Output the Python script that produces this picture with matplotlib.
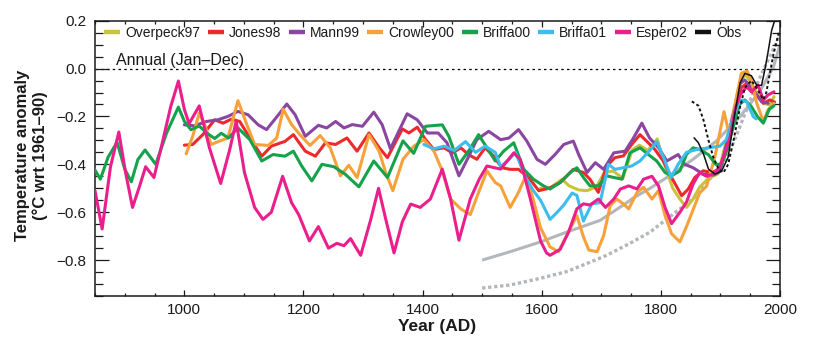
import matplotlib
matplotlib.use("Agg")
import matplotlib.pyplot as plt
from matplotlib.lines import Line2D
from matplotlib.ticker import MultipleLocator, FuncFormatter

plt.rcParams['font.family'] = ['Liberation Sans', 'DejaVu Sans']

# ---------------- data ----------------
overpeck_years = [1598, 1614, 1634, 1646, 1662, 1676, 1692, 1705, 1720, 1736, 1752, 1764, 1778, 1794,
                  1806, 1820, 1832, 1843, 1854, 1865, 1880, 1896, 1916, 1930, 1941, 1952, 1961, 1972,
                  1983, 1990]
overpeck_vals = [-0.50, -0.50, -0.462, -0.49, -0.507, -0.51, -0.494, -0.434, -0.428, -0.458, -0.34, -0.32,
                 -0.342, -0.294, -0.40, -0.50, -0.545, -0.58, -0.545, -0.496, -0.458, -0.44, -0.241, -0.09,
                 -0.021, -0.062, -0.103, -0.145, -0.152, -0.117]

jones_years = [1000, 1014, 1031, 1051, 1065, 1079, 1093, 1110, 1130, 1146, 1169, 1183, 1203, 1220, 1237,
               1254, 1273, 1290, 1310, 1327, 1341, 1366, 1377, 1391, 1405, 1419, 1436, 1450, 1464, 1477,
               1491, 1505, 1519, 1533, 1547, 1561, 1578, 1595, 1612, 1631, 1653, 1670, 1681, 1695, 1709,
               1723, 1737, 1751, 1765, 1776, 1790, 1804, 1818, 1835, 1846, 1857, 1871, 1885, 1899, 1912,
               1925, 1935, 1945, 1955, 1963, 1972, 1983, 1991]
jones_vals = [-0.32, -0.317, -0.276, -0.214, -0.228, -0.211, -0.221, -0.29, -0.366, -0.324, -0.304, -0.276,
              -0.345, -0.366, -0.31, -0.317, -0.29, -0.345, -0.269, -0.33, -0.372, -0.252, -0.269, -0.245,
              -0.297, -0.338, -0.331, -0.352, -0.331, -0.359, -0.379, -0.331, -0.365, -0.414, -0.421,
              -0.421, -0.455, -0.51, -0.50, -0.476, -0.421, -0.434, -0.462, -0.517, -0.407, -0.372,
              -0.365, -0.317, -0.276, -0.303, -0.338, -0.386, -0.455, -0.531, -0.503, -0.455, -0.427,
              -0.434, -0.421, -0.33, -0.18, -0.08, -0.06, -0.10, -0.117, -0.145, -0.131, -0.14]

mann_years = [1000, 1017, 1037, 1056, 1073, 1090, 1107, 1124, 1138, 1158, 1172, 1186, 1203, 1225, 1239,
              1254, 1268, 1282, 1299, 1318, 1332, 1346, 1360, 1374, 1391, 1408, 1426, 1441, 1461, 1475,
              1491, 1511, 1531, 1545, 1561, 1575, 1592, 1606, 1622, 1637, 1653, 1662, 1676, 1690, 1704,
              1721, 1740, 1754, 1768, 1781, 1796, 1810, 1829, 1840, 1854, 1871, 1888, 1899, 1916, 1933,
              1941, 1955, 1969, 1980]
mann_vals = [-0.235, -0.239, -0.221, -0.214, -0.20, -0.179, -0.193, -0.235, -0.255, -0.193, -0.148, -0.193,
             -0.283, -0.237, -0.248, -0.221, -0.248, -0.234, -0.241, -0.182, -0.234, -0.335, -0.262,
             -0.189, -0.214, -0.269, -0.269, -0.31, -0.448, -0.379, -0.297, -0.262, -0.297, -0.29,
             -0.255, -0.303, -0.379, -0.40, -0.36, -0.317, -0.303, -0.359, -0.434, -0.393, -0.421,
             -0.352, -0.345, -0.29, -0.228, -0.29, -0.33, -0.386, -0.359, -0.40, -0.414, -0.441,
             -0.445, -0.43, -0.255, -0.062, -0.048, -0.09, -0.138, -0.145]

crowley_years = [1003, 1014, 1025, 1034, 1045, 1059, 1073, 1090, 1104, 1118, 1141, 1155, 1166, 1180, 1194,
                 1211, 1228, 1245, 1262, 1276, 1290, 1310, 1327, 1338, 1350, 1367, 1385, 1402, 1419, 1433,
                 1447, 1464, 1480, 1494, 1508, 1522, 1531, 1547, 1561, 1572, 1584, 1598, 1614, 1628, 1642,
                 1659, 1670, 1679, 1693, 1704, 1715, 1726, 1737, 1746, 1760, 1771, 1785, 1796, 1807, 1818,
                 1832, 1843, 1854, 1865, 1877, 1891, 1906, 1916, 1926, 1935, 1945, 1952, 1961, 1972, 1980,
                 1990]
crowley_vals = [-0.356, -0.283, -0.186, -0.234, -0.317, -0.303, -0.29, -0.134, -0.228, -0.317, -0.321,
                -0.29, -0.17, -0.234, -0.276, -0.321, -0.28, -0.331, -0.448, -0.404, -0.455, -0.276,
                -0.345, -0.434, -0.51, -0.379, -0.325, -0.297, -0.345, -0.427, -0.545, -0.586, -0.61,
                -0.517, -0.427, -0.476, -0.49, -0.58, -0.517, -0.455, -0.531, -0.665, -0.745, -0.765,
                -0.697, -0.614, -0.703, -0.758, -0.765, -0.697, -0.572, -0.545, -0.565, -0.586, -0.517,
                -0.496, -0.545, -0.51, -0.614, -0.69, -0.724, -0.66, -0.59, -0.52, -0.49, -0.366, -0.18,
                -0.29, -0.13, -0.02, -0.01, -0.05, -0.145, -0.221, -0.172, -0.145]

briffa00_years = [849, 859, 872, 887, 900, 911, 922, 934, 952, 970, 990, 1000, 1011, 1025, 1038, 1051,
                  1062, 1074, 1090, 1110, 1130, 1149, 1169, 1183, 1197, 1214, 1231, 1251, 1270, 1293,
                  1318, 1341, 1367, 1385, 1405, 1433, 1444, 1461, 1477, 1494, 1508, 1522, 1536, 1553,
                  1570, 1586, 1603, 1614, 1631, 1648, 1659, 1670, 1681, 1695, 1709, 1721, 1735, 1748,
                  1765, 1779, 1793, 1807, 1818, 1832, 1843, 1854, 1865, 1880, 1892, 1902, 1912, 1922,
                  1932, 1941, 1952, 1962, 1972, 1982, 1990]
briffa00_vals = [-0.42, -0.462, -0.37, -0.308, -0.42, -0.473, -0.38, -0.34, -0.40, -0.27, -0.161, -0.22,
                 -0.255, -0.24, -0.27, -0.292, -0.27, -0.29, -0.248, -0.297, -0.386, -0.359, -0.366,
                 -0.345, -0.407, -0.469, -0.40, -0.41, -0.441, -0.494, -0.386, -0.455, -0.302, -0.354,
                 -0.241, -0.235, -0.283, -0.40, -0.345, -0.276, -0.331, -0.386, -0.345, -0.31, -0.421,
                 -0.462, -0.49, -0.503, -0.476, -0.434, -0.414, -0.455, -0.49, -0.49, -0.448, -0.455,
                 -0.462, -0.352, -0.331, -0.359, -0.386, -0.434, -0.448, -0.427, -0.359, -0.331, -0.338,
                 -0.36, -0.40, -0.40, -0.33, -0.24, -0.15, -0.131, -0.159, -0.20, -0.228, -0.17, -0.155]

briffa01_years = [1402, 1419, 1436, 1453, 1472, 1489, 1505, 1522, 1531, 1545, 1556, 1572, 1586, 1598, 1614,
                  1626, 1637, 1651, 1659, 1670, 1684, 1698, 1712, 1723, 1737, 1751, 1765, 1782, 1793, 1806,
                  1817, 1829, 1843, 1860, 1880, 1899, 1910, 1922, 1933, 1944, 1955, 1960]
briffa01_vals = [-0.317, -0.335, -0.324, -0.342, -0.305, -0.35, -0.324, -0.35, -0.41, -0.38, -0.35, -0.45,
                 -0.51, -0.55, -0.63, -0.60, -0.57, -0.52, -0.53, -0.637, -0.565, -0.56, -0.40, -0.421,
                 -0.414, -0.407, -0.386, -0.34, -0.305, -0.38, -0.455, -0.40, -0.35, -0.338, -0.331,
                 -0.324, -0.297, -0.20, -0.131, -0.138, -0.20, -0.21]

esper_years = [850, 862, 876, 890, 901, 913, 925, 935, 949, 963, 977, 990, 1000, 1008, 1025, 1042, 1061,
               1076, 1087, 1101, 1118, 1132, 1146, 1165, 1180, 1192, 1210, 1225, 1242, 1256, 1268, 1279,
               1296, 1313, 1326, 1338, 1352, 1366, 1380, 1396, 1413, 1433, 1447, 1461, 1480, 1495, 1508,
               1531, 1553, 1564, 1581, 1598, 1608, 1614, 1631, 1645, 1659, 1670, 1681, 1695, 1707, 1721,
               1732, 1746, 1760, 1771, 1785, 1796, 1807, 1818, 1832, 1843, 1854, 1865, 1877, 1888, 1899,
               1916, 1925, 1933, 1944, 1952, 1963, 1972, 1980, 1990]
esper_vals = [-0.51, -0.67, -0.41, -0.265, -0.43, -0.58, -0.49, -0.41, -0.455, -0.31, -0.16, -0.052, -0.17,
              -0.23, -0.156, -0.33, -0.48, -0.34, -0.22, -0.435, -0.58, -0.63, -0.60, -0.45, -0.56, -0.61,
              -0.72, -0.66, -0.75, -0.73, -0.74, -0.71, -0.78, -0.63, -0.50, -0.628, -0.77, -0.64, -0.566,
              -0.58, -0.545, -0.42, -0.545, -0.717, -0.545, -0.462, -0.407, -0.42, -0.352, -0.38, -0.545,
              -0.72, -0.77, -0.78, -0.755, -0.683, -0.586, -0.565, -0.57, -0.545, -0.58, -0.545, -0.503,
              -0.49, -0.503, -0.462, -0.45, -0.49, -0.58, -0.648, -0.60, -0.558, -0.483, -0.435, -0.45,
              -0.44, -0.41, -0.29, -0.166, -0.11, -0.076, -0.097, -0.069, -0.131, -0.11, -0.097]

obs_years = [1856, 1863, 1872, 1880, 1891, 1902, 1913, 1922, 1933, 1941, 1952, 1961, 1969, 1975, 1980,
             1986, 1991, 1995]
obs_vals = [-0.29, -0.31, -0.36, -0.42, -0.441, -0.428, -0.37, -0.22, -0.06, -0.02, -0.03, -0.07, -0.07,
            0.0, 0.07, 0.16, 0.20, 0.24]

dotted_years = [1852, 1863, 1871, 1880, 1888, 1897, 1905, 1913, 1922, 1933, 1941, 1952, 1963, 1972, 1977,
                1983, 1989, 1995, 1998]
dotted_vals = [-0.137, -0.155, -0.21, -0.30, -0.37, -0.42, -0.435, -0.40, -0.30, -0.16, -0.08, -0.05,
               -0.09, -0.13, -0.10, -0.02, 0.06, 0.12, 0.15]

bore_years = [1500, 1547, 1598, 1642, 1698, 1743, 1754, 1782, 1810, 1854, 1893, 1933, 1966, 1989, 2000]
bore_vals = [-0.80, -0.765, -0.724, -0.683, -0.634, -0.56, -0.54, -0.50, -0.455, -0.379, -0.303, -0.20,
             -0.097, 0.007, 0.10]

bore2_years = [1500, 1547, 1598, 1642, 1676, 1709, 1748, 1782, 1810, 1854, 1882, 1910, 1930, 1955, 1977,
               2000]
bore2_vals = [-0.917, -0.904, -0.876, -0.848, -0.814, -0.78, -0.73, -0.683, -0.628, -0.545, -0.462,
              -0.38, -0.26, -0.10, 0.02, 0.14]

series_names = ["Overpeck97", "Jones98", "Mann99", "Crowley00", "Briffa00", "Briffa01", "Esper02", "Obs"]
series_colors = ["#c9c33b", "#ec2a2e", "#8a46a0", "#f7a13b", "#15a24b", "#3dbdee", "#ea1f8c", "#111111"]

x_ticks = [1000, 1200, 1400, 1600, 1800, 2000]
y_ticks = [-0.8, -0.6, -0.4, -0.2, 0.0, 0.2]

# ---------------- figure ----------------
fig = plt.figure(figsize=(8.28, 3.46), dpi=100)
ax = fig.add_axes([95 / 828, 50 / 346, 685 / 828, 275.3 / 346])

grey = "#b3b7bb"
ax.plot(bore_years, bore_vals, color=grey, lw=2.2, solid_capstyle='butt', zorder=1)
ax.plot(bore2_years, bore2_vals, color=grey, lw=2.4, ls=(0, (1.0, 0.8)), zorder=1)

ax.axhline(0, color='black', lw=0.9, ls=(0, (2, 2.6)), zorder=0.5)

lw = 2.2
data = [
    (overpeck_years, overpeck_vals),
    (jones_years, jones_vals),
    (mann_years, mann_vals),
    (crowley_years, crowley_vals),
    (briffa00_years, briffa00_vals),
    (briffa01_years, briffa01_vals),
    (esper_years, esper_vals),
]
order_z = [3, 3, 3, 3, 3, 4, 5]
for (yrs, vals), col, z in zip(data, series_colors[:7], order_z):
    ax.plot(yrs, vals, color=col, lw=lw, solid_joinstyle='round', solid_capstyle='round', zorder=z)

ax.plot(dotted_years, dotted_vals, color='#111111', lw=1.4, ls=(0, (1.5, 1.3)), zorder=6)
ax.plot(obs_years, obs_vals, color='#111111', lw=1.1, zorder=7)

ax.set_xlim(850, 2000)
ax.set_ylim(-0.95, 0.2)

ax.xaxis.set_major_locator(MultipleLocator(200))
ax.xaxis.set_minor_locator(MultipleLocator(50))
ax.set_yticks(y_ticks)
ax.yaxis.set_minor_locator(MultipleLocator(0.05))
ax.set_xticks(x_ticks)
ax.xaxis.set_major_formatter(FuncFormatter(lambda v, p: f"{int(v)}"))
ax.yaxis.set_major_formatter(FuncFormatter(lambda v, p: f"{v:.1f}".replace("-", "\u2212")))

ax.tick_params(axis='both', which='both', direction='in', top=True, right=True, width=0.9,
               labelsize=11, colors='#1a1a1a')
ax.tick_params(axis='y', which='major', length=10, pad=6)
ax.tick_params(axis='y', which='minor', length=5.5)
ax.tick_params(axis='x', which='major', length=4.5, pad=5)
ax.tick_params(axis='x', which='minor', length=2.5)
for s in ax.spines.values():
    s.set_linewidth(1.1)
    s.set_color('#1a1a1a')

ax.set_xlabel("Year (AD)", fontsize=12.5, fontweight='bold', color='#1a1a1a')
ax.xaxis.set_label_coords(0.5, -0.085)
ax.set_ylabel("Temperature anomaly\n(\u00b0C wrt 1961\u201390)", fontsize=12, fontweight='bold',
              color='#1a1a1a', linespacing=1.15)
ax.yaxis.set_label_coords(-0.069, 0.51)

ax.text(885, 0.034, "Annual (Jan\u2013Dec)", fontsize=11.5, ha='left', va='center', color='#1a1a1a')

handles = [Line2D([0], [0], color=c, lw=3.2, solid_capstyle='butt') for c in series_colors]
leg = ax.legend(handles, series_names, ncol=8, loc='center left',
                bbox_to_anchor=(9.5 / 685, 1 - 12 / 275.3), frameon=False, fontsize=10,
                handlelength=1.15, handletextpad=0.35, columnspacing=0.55, borderaxespad=0,
                borderpad=0)
for t in leg.get_texts():
    t.set_color('#1a1a1a')

fig.savefig("out.png", dpi=100)
